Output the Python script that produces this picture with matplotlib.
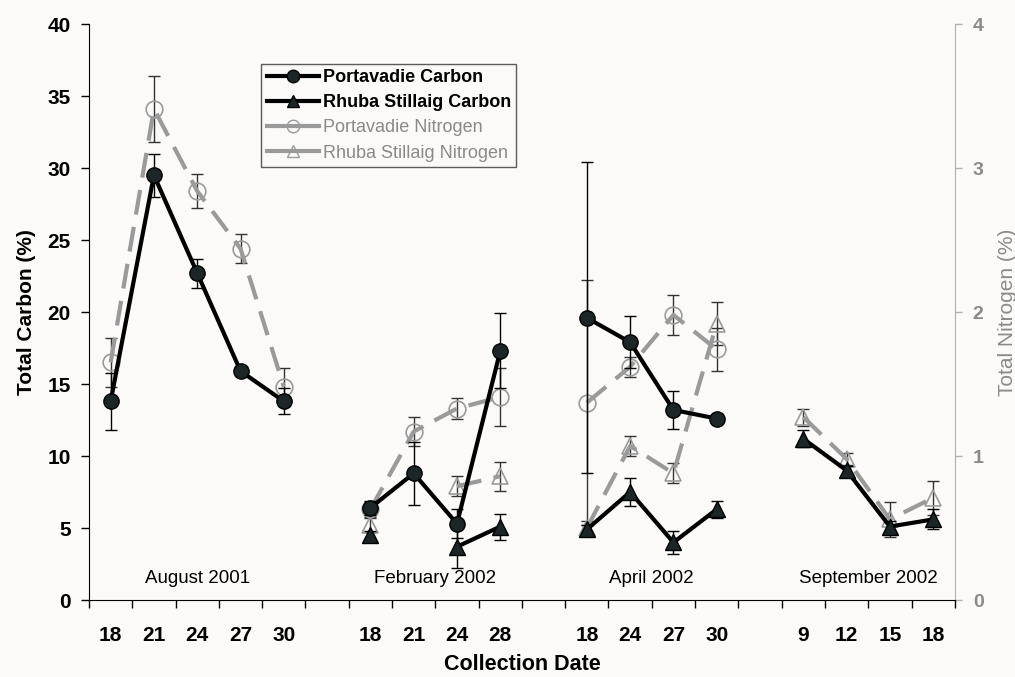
import numpy as np
import matplotlib.pyplot as plt
from matplotlib.lines import Line2D

nan = np.nan

# collection dates (blank entries separate the sampling months)
dates = ['18', '21', '24', '27', '30', '',
         '18', '21', '24', '28', '',
         '18', '24', '27', '30', '',
         '9', '12', '15', '18']
months = ['August 2001', 'February 2002', 'April 2002', 'September 2002']
month_slots = [(0, 5), (6, 10), (11, 15), (16, 20)]

# total carbon (%)
porta_c = [13.8, 29.5, 22.7, 15.9, 13.8, nan,
           6.4, 8.8, 5.3, 17.3, nan,
           19.6, 17.9, 13.2, 12.6, nan,
           nan, nan, nan, nan]
porta_c_err = [2.0, 1.5, 1.0, 0.3, 0.9, nan,
               0.5, 2.2, 1.0, 2.6, nan,
               10.8, 1.8, 1.3, 0.3, nan,
               nan, nan, nan, nan]
rhuba_c = [nan, nan, nan, nan, nan, nan,
           4.5, nan, 3.7, 5.1, nan,
           4.9, 7.5, 4.0, 6.3, nan,
           11.2, 9.0, 5.1, 5.6]
rhuba_c_err = [nan, nan, nan, nan, nan, nan,
               0.3, nan, 1.5, 0.9, nan,
               0.3, 0.95, 0.8, 0.6, nan,
               0.6, 0.3, 0.4, 0.7]

# total nitrogen (%)
porta_n = [1.65, 3.41, 2.84, 2.44, 1.48, nan,
           0.63, 1.17, 1.33, 1.41, nan,
           1.37, 1.62, 1.98, 1.74, nan,
           nan, nan, nan, nan]
porta_n_err = [0.17, 0.23, 0.12, 0.1, 0.13, nan,
               0.05, 0.1, 0.07, 0.2, nan,
               0.85, 0.07, 0.14, 0.15, nan,
               nan, nan, nan, nan]
rhuba_n = [nan, nan, nan, nan, nan, nan,
           0.52, nan, 0.79, 0.86, nan,
           0.5, 1.07, 0.88, 1.92, nan,
           1.27, 0.98, 0.56, 0.71]
rhuba_n_err = [nan, nan, nan, nan, nan, nan,
               0.05, nan, 0.07, 0.1, nan,
               0.05, 0.07, 0.07, 0.15, nan,
               0.06, 0.04, 0.12, 0.12]

bg = '#fbfaf8'
grey = '#9a9a9a'
txt_grey = '#8a8a8a'
dark = '#1c2626'

plt.rcParams['font.family'] = ['Liberation Sans', 'DejaVu Sans']

fig = plt.figure(figsize=(10.15, 6.77), dpi=100, facecolor=bg)
ax = fig.add_axes([0.0877, 0.1137, 0.853, 0.8508])
ax2 = ax.twinx()
ax.set_zorder(ax2.get_zorder() + 1)
ax.patch.set_visible(False)
ax2.set_facecolor(bg)

x = np.arange(len(dates)) + 0.5

# nitrogen on the right axis
ax2.errorbar(x, porta_n, yerr=porta_n_err, fmt='none', ecolor='#333333',
             elinewidth=1, capsize=4, capthick=1)
ax2.errorbar(x, rhuba_n, yerr=rhuba_n_err, fmt='none', ecolor='#333333',
             elinewidth=1, capsize=4, capthick=1)
ax2.plot(x, porta_n, color=grey, lw=3, dashes=(6, 3), marker='o', ms=12,
         mfc='none', mec=grey, mew=1.2)
ax2.plot(x, rhuba_n, color=grey, lw=3, dashes=(6, 3), marker='^', ms=12,
         mfc='none', mec=grey, mew=1.2)

# carbon on the left axis
ax.errorbar(x, porta_c, yerr=porta_c_err, fmt='none', ecolor='black',
            elinewidth=1, capsize=4, capthick=1)
ax.errorbar(x, rhuba_c, yerr=rhuba_c_err, fmt='none', ecolor='black',
            elinewidth=1, capsize=4, capthick=1)
ax.plot(x, porta_c, color='black', lw=3, marker='o', ms=11, mfc=dark, mec='black')
ax.plot(x, rhuba_c, color='black', lw=3, marker='^', ms=11, mfc=dark, mec='black')

ax.set_xlim(0, len(dates))
ax.set_ylim(0, 40)
ax2.set_ylim(0, 4)

ax.set_xticks(np.arange(len(dates) + 1))
ax.set_xticklabels([])
ax.set_xticks(x, minor=True)
ax.set_xticklabels(dates, minor=True, fontsize=15, fontweight='bold')
ax.tick_params(axis='x', which='major', direction='out', length=6, width=1)
ax.tick_params(axis='x', which='minor', length=0, pad=19)

ax.set_yticks(range(0, 41, 5))
ax.set_yticklabels([str(v) for v in range(0, 41, 5)], fontsize=15, fontweight='bold')
ax.tick_params(axis='y', direction='out', length=6, width=1, pad=7)

ax2.set_yticks(range(0, 5))
ax2.set_yticklabels([str(v) for v in range(0, 5)], fontsize=14,
                    fontweight='bold', color=txt_grey)
ax2.tick_params(axis='y', direction='out', length=5, width=1, color='#b0b0b0', pad=8)

for a in (ax, ax2):
    a.spines['top'].set_visible(False)
ax2.spines['right'].set_color('#b0b0b0')
ax2.spines['left'].set_visible(False)
ax2.spines['bottom'].set_visible(False)
ax.spines['right'].set_visible(False)

ax.set_ylabel('Total Carbon (%)', fontsize=15, fontweight='bold', labelpad=8)
ax2.set_ylabel('Total Nitrogen (%)', fontsize=15, color=txt_grey, labelpad=10)
ax.set_xlabel('Collection Date', fontsize=15.5, fontweight='bold', labelpad=6)

for name, (a, b) in zip(months, month_slots):
    ax.text((a + b) / 2, 1.5, name, ha='center', va='center', fontsize=13.5)

handles = [
    Line2D([], [], color='black', lw=3, marker='o', ms=9, mfc=dark, mec='black'),
    Line2D([], [], color='black', lw=3, marker='^', ms=9, mfc=dark, mec='black'),
    Line2D([], [], color=grey, lw=3, marker='o', ms=9, mfc='none', mec=grey),
    Line2D([], [], color=grey, lw=3, marker='^', ms=9, mfc='none', mec=grey),
]
labels = ['Portavadie Carbon', 'Rhuba Stillaig Carbon',
          'Portavadie Nitrogen', 'Rhuba Stillaig Nitrogen']
leg = ax.legend(handles, labels, loc='upper left', bbox_to_anchor=(0.199, 0.931),
                fontsize=13, frameon=True, fancybox=False, handlelength=2.9,
                handletextpad=0.2, borderpad=0.3, labelspacing=0.45,
                borderaxespad=0)
leg.get_frame().set_edgecolor('#333333')
leg.get_frame().set_linewidth(1)
leg.get_frame().set_facecolor(bg)
for i, t in enumerate(leg.get_texts()):
    if i < 2:
        t.set_fontweight('bold')
    else:
        t.set_color(txt_grey)

fig.savefig('out.png', dpi=100, facecolor=bg)
